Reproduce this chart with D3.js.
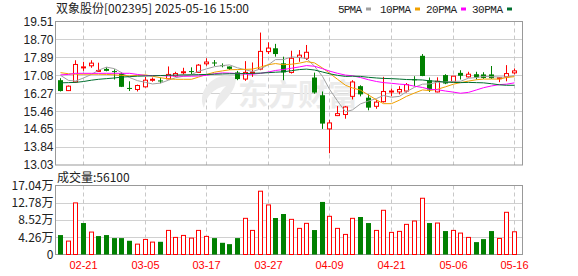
<!DOCTYPE html>
<html>
<head>
<meta charset="utf-8">
<script src="https://cdn.jsdelivr.net/npm/d3@7"></script>
<style>
  body { margin: 0; background: #fff; }
  svg { display: block; }
</style>
</head>
<body>
<script>
// 交易日 (2025)
const dates = ["02-18","02-19","02-20","02-21","02-24","02-25","02-26","02-27","02-28","03-03",
  "03-04","03-05","03-06","03-07","03-10","03-11","03-12","03-13","03-14","03-17",
  "03-18","03-19","03-20","03-21","03-24","03-25","03-26","03-27","03-28","03-31",
  "04-01","04-02","04-03","04-07","04-08","04-09","04-10","04-11","04-14","04-15",
  "04-16","04-17","04-18","04-21","04-22","04-23","04-24","04-25","04-28","04-29",
  "04-30","05-06","05-07","05-08","05-09","05-12","05-13","05-14","05-15","05-16"]

const openP = [16.86,16.39,16.78,17.44,17.51,17.28,17.37,17.27,17.16,16.51,
  16.44,16.56,16.88,16.85,16.92,17.05,17.22,17.27,17.21,17.60,
  17.66,17.54,17.48,17.21,16.91,17.19,17.36,18.15,18.30,17.62,
  17.21,17.89,17.85,16.98,16.18,14.66,15.26,15.31,16.13,16.59,
  16.07,15.68,15.89,16.35,16.33,16.37,16.90,17.96,16.86,16.33,
  17.09,16.78,17.19,17.01,17.13,17.12,17.12,16.93,17.01,17.19]
const highP = [16.95,16.62,17.76,17.69,17.76,17.65,17.44,17.35,17.21,16.81,
  16.66,17.01,16.98,16.98,17.48,17.24,17.42,17.44,17.59,17.85,
  17.77,17.62,17.48,17.28,17.72,17.66,19.01,18.57,18.50,17.92,
  18.19,18.22,18.45,17.20,16.35,15.07,15.69,15.69,16.86,16.63,
  16.22,15.98,17.01,16.48,16.59,16.73,17.04,18.04,16.98,16.99,
  17.13,17.05,17.31,17.24,17.24,17.22,17.50,16.99,17.54,17.39]
const lowP = [16.35,16.37,16.74,17.28,17.42,17.24,17.26,16.89,16.55,16.37,
  16.35,16.53,16.79,16.72,16.90,17.01,17.12,17.13,17.20,17.51,
  17.50,17.44,17.32,16.86,16.83,17.01,17.31,18.04,17.92,16.86,
  17.16,17.69,17.77,16.25,14.66,13.56,15.24,15.12,15.99,16.13,
  15.50,15.57,15.85,16.13,16.22,16.30,16.59,17.04,16.33,16.31,
  16.68,16.77,16.89,16.98,16.89,16.92,16.92,16.77,16.81,17.12]
const closeP = [16.37,16.59,17.57,17.46,17.63,17.30,17.28,17.25,16.56,16.49,
  16.62,16.86,16.90,16.80,17.12,17.16,17.24,17.25,17.54,17.68,
  17.63,17.52,17.37,16.91,17.21,17.22,18.16,18.31,18.04,17.21,
  17.85,17.99,18.12,16.30,14.90,14.93,15.35,15.65,16.78,16.22,
  15.62,15.87,16.35,16.37,16.44,16.66,16.88,17.05,16.44,16.81,
  16.71,17.04,17.06,17.13,16.98,16.96,16.95,16.97,17.16,17.28]

// 成交量
const volume = [48000,33100,127400,77700,55400,45500,48000,40500,40500,33900,
  25600,37200,30600,31400,59500,42200,47100,40500,59500,44700,
  40500,28900,25600,40500,89300,59500,156300,122400,90100,100000,
  86800,64500,76900,60400,129800,94300,64500,49600,89300,92600,
  77700,59500,109200,54600,57100,74400,82700,138900,77700,77700,
  57900,59500,52900,42200,30600,38000,57900,39700,104200,56100]

// 均线
const ma5 = [17.08,16.85,16.82,16.96,17.12,17.31,17.45,17.38,17.20,16.98,
  16.84,16.76,16.69,16.73,16.86,16.97,17.04,17.11,17.26,17.37,
  17.47,17.52,17.55,17.42,17.33,17.25,17.37,17.56,17.79,17.79,
  17.91,17.88,17.84,17.49,17.03,16.45,15.92,15.43,15.52,15.79,
  15.92,16.03,16.17,16.09,16.13,16.34,16.54,16.68,16.69,16.77,
  16.78,16.81,16.81,16.95,16.98,17.03,17.02,17.00,17.00,17.06]
const ma10 = [17.20,17.15,17.13,17.13,17.13,17.13,17.12,17.10,17.08,17.05,
  17.08,17.10,17.04,16.97,16.92,16.90,16.90,16.90,17.00,17.12,
  17.22,17.28,17.33,17.34,17.35,17.36,17.45,17.56,17.61,17.56,
  17.58,17.63,17.70,17.64,17.41,17.18,16.90,16.63,16.51,16.41,
  16.19,15.97,15.80,15.80,15.96,16.13,16.28,16.42,16.39,16.45,
  16.56,16.68,16.75,16.82,16.88,16.91,16.91,16.91,16.98,17.02]
const ma20 = [17.10,17.12,17.17,17.17,17.17,17.17,17.17,17.17,17.17,17.17,
  17.12,17.07,17.07,17.07,17.05,17.05,17.04,17.04,17.05,17.08,
  17.15,17.19,17.18,17.16,17.13,17.13,17.17,17.23,17.30,17.34,
  17.40,17.46,17.52,17.49,17.38,17.27,17.17,17.09,17.06,16.98,
  16.88,16.80,16.75,16.72,16.68,16.66,16.59,16.53,16.45,16.43,
  16.37,16.32,16.27,16.31,16.42,16.52,16.60,16.66,16.68,16.74]
const ma30 = [16.74,16.75,16.76,16.80,16.86,16.90,16.93,16.96,17.00,17.02,
  17.04,17.05,17.06,17.07,17.08,17.09,17.10,17.10,17.11,17.12,
  17.13,17.14,17.15,17.15,17.16,17.17,17.18,17.20,17.22,17.24,
  17.29,17.34,17.36,17.32,17.23,17.15,17.08,17.03,17.04,17.03,
  16.99,16.96,16.94,16.93,16.91,16.89,16.88,16.87,16.83,16.81,
  16.77,16.76,16.75,16.76,16.75,16.74,16.70,16.65,16.63,16.63]

// 刻度
const priceTicks = [13.03,13.84,14.65,15.46,16.27,17.08,17.89,18.70,19.51]
const volTicks = [0,42600,85200,127800,170400]
const volTickLabels = ["0","4.26万","8.52万","12.78万","17.04万"]
const dateTicks = ["02-21","03-05","03-17","03-27","04-09","04-21","05-06","05-16"]

const maNames = ["5PMA","10PMA","20PMA","30PMA"]

const width = 578, height = 276
const left = 55.5, right = 522.5
const kTop = 21.5, kBottom = 165
const vTop = 185.5, vBottom = 254.5
const red = "#ff0000", green = "#008000"
const maColors = ["#a0a0a0","#f0a000","#ff00ff","#006f2f"]
const numFont = "'Liberation Sans', Arial, sans-serif"
const cjkFont = "'Noto Sans CJK SC', 'Liberation Sans', sans-serif"

const svg = d3.select("body").append("svg")
  .attr("width", width).attr("height", height)

const x = d3.scaleBand().domain(dates).range([56.5, 518.5])
const cx = d => Math.floor(x(d) + x.bandwidth() / 2) + 0.5
const y = d3.scaleLinear().domain([13.03, 19.51]).range([kBottom, kTop])
const yv = d3.scaleLinear().domain([0, 170400]).range([vBottom, vTop])

const rows = dates.map((d, i) => ({
  date: d, o: openP[i], h: highP[i], l: lowP[i], c: closeP[i], v: volume[i],
  prev: i > 0 ? closeP[i - 1] : openP[i]
}))

// 网格
const grid = svg.append("g")
grid.selectAll(".hk").data(priceTicks.slice(1, -1)).enter().append("line")
  .attr("x1", left).attr("x2", right)
  .attr("y1", d => Math.round(y(d)) + 0.5).attr("y2", d => Math.round(y(d)) + 0.5)
  .attr("stroke", "#d0d0d0")
grid.selectAll(".hv").data(volTicks.slice(1, -1)).enter().append("line")
  .attr("x1", left).attr("x2", right)
  .attr("y1", d => Math.round(yv(d)) + 0.5).attr("y2", d => Math.round(yv(d)) + 0.5)
  .attr("stroke", "#d0d0d0")
dateTicks.forEach(d => {
  [[kTop, kBottom], [vTop, vBottom]].forEach(r => {
    grid.append("line")
      .attr("x1", cx(d)).attr("x2", cx(d)).attr("y1", r[0]).attr("y2", r[1])
      .attr("stroke", "#c8c8c8").attr("stroke-dasharray", "4,3")
  })
})

// 水印
const wm = svg.append("g").attr("fill", "#ebebeb")
wm.append("path")
  .attr("d", "M222,76 C206,80 198,96 204,108 C206,96 214,88 226,86 C220,92 214,100 216,110 C226,100 236,90 236,78 C232,76 226,75 222,76 Z")
wm.append("text").attr("x", 238).attr("y", 105)
  .attr("font-family", cjkFont).attr("font-size", 30).attr("font-weight", "bold")
  .text("东方财富")

// 边框
;[[kTop, kBottom], [vTop, vBottom]].forEach(r => {
  svg.append("rect").attr("x", left).attr("y", r[0])
    .attr("width", right - left).attr("height", r[1] - r[0])
    .attr("fill", "none").attr("stroke", "#999")
})

// K线
const k = svg.append("g")
k.selectAll(".wick").data(rows).enter().append("line")
  .attr("x1", d => cx(d.date)).attr("x2", d => cx(d.date))
  .attr("y1", d => y(d.h)).attr("y2", d => y(d.l))
  .attr("stroke", d => d.c >= d.o ? red : green)
k.selectAll(".body").data(rows).enter().append("rect")
  .attr("x", d => d.c >= d.o ? cx(d.date) - 2 : cx(d.date) - 2.5)
  .attr("y", d => y(Math.max(d.o, d.c)))
  .attr("width", d => d.c >= d.o ? 4 : 5)
  .attr("height", d => Math.max(1, Math.abs(y(d.o) - y(d.c))))
  .attr("fill", d => d.c >= d.o ? "#fff" : green)
  .attr("stroke", d => d.c >= d.o ? red : "none")

// 均线
const mas = [ma5, ma10, ma20, ma30]
mas.forEach((arr, j) => {
  const line = d3.line().x((v, i) => cx(dates[i])).y(v => y(v))
  svg.append("path").datum(arr)
    .attr("d", line).attr("fill", "none")
    .attr("stroke", maColors[j]).attr("stroke-width", 1)
})

// 成交量
svg.selectAll(".vol").data(rows).enter().append("rect")
  .attr("x", d => d.c >= d.prev ? cx(d.date) - 2 : cx(d.date) - 2.5)
  .attr("y", d => yv(d.v))
  .attr("width", d => d.c >= d.prev ? 4 : 5)
  .attr("height", d => vBottom - yv(d.v))
  .attr("fill", d => d.c >= d.prev ? "#fff" : green)
  .attr("stroke", d => d.c >= d.prev ? red : "none")

// 坐标轴
const yAxis = svg.append("g").attr("transform", `translate(${left - 2},0)`)
  .call(d3.axisLeft(y).tickValues(priceTicks).tickFormat(d3.format(".2f")).tickSize(0).tickPadding(0))
yAxis.select(".domain").remove()
yAxis.selectAll("text").attr("font-family", numFont).attr("font-size", 12).attr("fill", "#222")

const vAxis = svg.append("g").attr("transform", `translate(${left - 2},0)`)
  .call(d3.axisLeft(yv).tickValues(volTicks).tickFormat((d, i) => volTickLabels[i]).tickSize(0).tickPadding(0))
vAxis.select(".domain").remove()
vAxis.selectAll("text").attr("font-family", cjkFont).attr("font-size", 12).attr("fill", "#222")

const xAxis = svg.append("g").attr("transform", `translate(0,${vBottom})`)
  .call(d3.axisBottom(x).tickValues(dateTicks).tickSize(0).tickPadding(7))
xAxis.select(".domain").remove()
xAxis.selectAll(".tick").attr("transform", d => `translate(${cx(d)},0)`)
xAxis.selectAll("text").attr("font-family", numFont).attr("font-size", 11).attr("fill", red)

// 标题与图例
svg.append("text").attr("x", 56).attr("y", 13)
  .attr("font-family", cjkFont).attr("font-size", 12).attr("fill", "#222")
  .text("双象股份[002395] 2025-05-16 15:00")

const legX = [338, 380, 426, 472]
const legLen = [24, 31, 31, 31]
maNames.forEach((n, j) => {
  svg.append("text").attr("x", legX[j]).attr("y", 12.5)
    .attr("font-family", "'Liberation Mono', monospace").attr("font-size", 11)
    .attr("textLength", legLen[j]).attr("fill", "#222").text(n)
  svg.append("rect").attr("x", legX[j] + legLen[j] + 4).attr("y", 7.5)
    .attr("width", 5).attr("height", 3).attr("fill", maColors[j])
})

svg.append("text").attr("x", 57).attr("y", 181.5)
  .attr("font-family", cjkFont).attr("font-size", 12).attr("fill", "#222")
  .text("成交量:" + volume[volume.length - 1])
</script>
</body>
</html>
